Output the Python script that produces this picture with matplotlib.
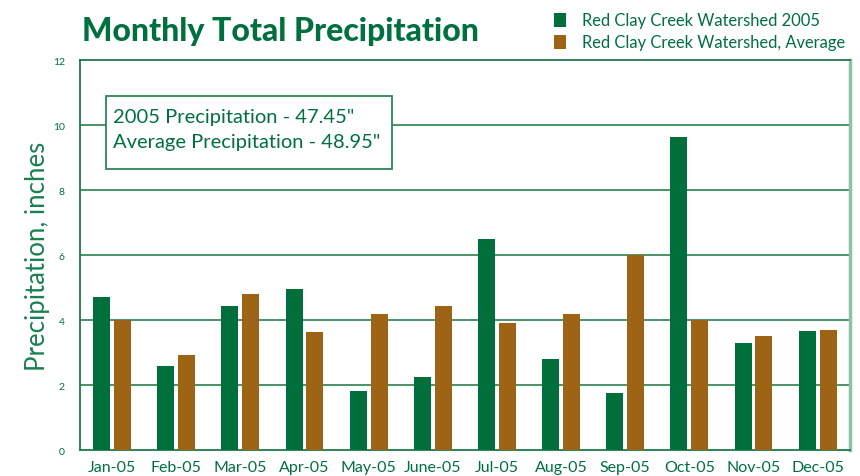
import matplotlib
matplotlib.use("Agg")
import matplotlib.pyplot as plt
import numpy as np
from matplotlib.patches import Rectangle

months = ["Jan-05", "Feb-05", "Mar-05", "Apr-05", "May-05", "June-05",
          "Jul-05", "Aug-05", "Sep-05", "Oct-05", "Nov-05", "Dec-05"]
precip_2005 = [4.72, 2.57, 4.44, 4.97, 1.82, 2.25, 6.48, 2.81, 1.76, 9.63, 3.30, 3.67]
precip_avg = [4.01, 2.93, 4.81, 3.64, 4.20, 4.44, 3.92, 4.20, 6.00, 3.99, 3.52, 3.70]
yticks = [0, 2, 4, 6, 8, 10, 12]
summary = ["2005 Precipitation - 47.45\"", "Average Precipitation - 48.95\""]

GREEN = "#006F3C"
BROWN = "#9E6415"
TXT = "#00703F"
GRID = "#3A8A5C"

fig = plt.figure(figsize=(8.6, 4.77), dpi=100)
ax = fig.add_axes([0.093, 0.0545, 0.895, 0.8175])

x = np.arange(len(months))
w = 0.265
ax.bar(x - 0.163, precip_2005, width=w, color=GREEN, zorder=3,
       label="Red Clay Creek Watershed 2005")
ax.bar(x + 0.163, precip_avg, width=w, color=BROWN, zorder=3,
       label="Red Clay Creek Watershed, Average")

ax.set_xlim(-0.5, len(months) - 0.5)
ax.set_ylim(0, 12)
ax.set_yticks(yticks)
ax.set_yticklabels([str(t) for t in yticks], fontsize=7.5, color=TXT, family="Lato")
ax.set_xticks(x)
ax.set_xticklabels(months, fontsize=11.5, color=TXT, family="Lato")
ax.tick_params(axis="both", length=0, pad=7)
ax.tick_params(axis="y", pad=11)

for t in yticks[1:-1]:
    ax.axhline(t, color=GRID, lw=1.3, zorder=1)

for s in ["left", "top", "bottom"]:
    ax.spines[s].set_color("#1E7A4A")
    ax.spines[s].set_linewidth(1.3)
ax.spines["right"].set_color("#8CC3A5")
ax.spines["right"].set_linewidth(2.5)

ax.set_ylabel("Precipitation, inches", fontsize=18.5, color="#1A8050",
              family="Lato", labelpad=2)

# summary box
ax.add_patch(Rectangle((0.034, 0.72), 0.372, 0.188, transform=ax.transAxes,
                       facecolor="white", edgecolor="#2E8558", linewidth=1.3, zorder=5))
for i, line in enumerate(summary):
    ax.text(0.043, 0.856 - i * 0.064, line, transform=ax.transAxes,
            fontsize=14.5, color=TXT, family="Lato", va="center", ha="left", zorder=6)

fig.text(0.095, 0.934, "Monthly Total Precipitation", fontsize=23, fontweight="black",
         color=TXT, family="Lato", va="center", ha="left")

leg = fig.legend(loc="upper left", bbox_to_anchor=(0.627, 1.003), frameon=False,
                 handlelength=0.75, handleheight=0.9, handletextpad=0.95,
                 labelspacing=0.36, prop={"family": "Lato", "size": 11.9})
for t in leg.get_texts():
    t.set_color(TXT)

fig.savefig("out.png", dpi=100)
